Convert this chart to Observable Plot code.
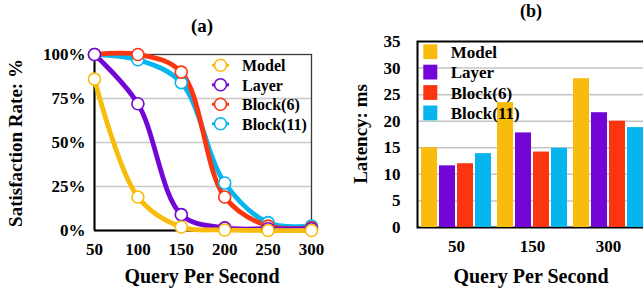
<!DOCTYPE html>
<html>
<head>
<meta charset="utf-8">
<script src="https://cdn.jsdelivr.net/npm/d3@7"></script>
<script src="https://cdn.jsdelivr.net/npm/@observablehq/plot@0.6"></script>
<style>
html, body { margin: 0; padding: 0; background: #fff; overflow: hidden; width: 643px; height: 292px; }
#root { position: relative; width: 643px; height: 292px; }
.layer { position: absolute; top: 0; }
#overlay { position: absolute; left: 0; top: 0; pointer-events: none; }
#overlay text { font-family: "Liberation Serif", "Times New Roman", serif; font-weight: bold; fill: #000; }
</style>
</head>
<body>
<div id="root">
  <div id="leftBox" class="layer" style="left:0;width:320px;height:292px"></div>
  <div id="rightBg" class="layer" style="left:320px;width:330px;height:292px"></div>
  <div id="rightBars" class="layer" style="left:320px;width:330px;height:292px"></div>
</div>
<script>
// ---------- data ----------
const qps = [50, 100, 150, 200, 250, 300];
const seriesNames = ["Model", "Layer", "Block(6)", "Block(11)"];
const seriesColors = ["#F9BC0C", "#7306D6", "#FC3511", "#05B5EE"];
const rateModel = [86, 19, 2, 0.3, 0, 0];
const rateLayer = [100, 72, 9, 1.5, 1, 1];
const rateBlock6 = [100, 100, 90, 19, 2.5, 1.5];
const rateBlock11 = [100, 97, 84, 27, 4.5, 2.5];
const rateTicks = [0, 25, 50, 75, 100];
const rateGrid = [25, 50, 75];

const qpsGroups = ["50", "150", "300"];
const latModel = [15, 23.5, 28];
const latLayer = [11.6, 17.8, 21.6];
const latBlock6 = [12, 14.2, 20];
const latBlock11 = [13.9, 14.9, 18.8];
const latTicks = [0, 5, 10, 15, 20, 25, 30, 35];
const latGrid = [5, 10, 15, 20, 25, 30];

const titleA = "(a)", titleB = "(b)";
const xTitle = "Query Per Second";
const yTitleA = "Satisfaction Rate: %";
const yTitleB = "Latency: ms";

// ---------- tables ----------
const rateSeries = [rateModel, rateLayer, rateBlock6, rateBlock11];
const latSeries = [latModel, latLayer, latBlock6, latBlock11];
// draw later series underneath (Model on top)
const lineData = [];
for (let i = seriesNames.length - 1; i >= 0; i--) {
  qps.forEach((q, j) => lineData.push({ qps: q, rate: rateSeries[i][j], series: seriesNames[i] }));
}
const barData = [];
qpsGroups.forEach((g, j) => seriesNames.forEach((s, i) => barData.push({ group: g, series: s, latency: latSeries[i][j] })));

const font = { fontFamily: "'Liberation Serif', 'Times New Roman', serif", fontWeight: "bold", fontSize: "17px", color: "#000", overflow: "visible" };
const color = { domain: seriesNames, range: seriesColors };

// ---------- (a) line chart ----------
const left = Plot.plot({
  width: 320, height: 292,
  marginLeft: 94, marginRight: 9, marginTop: 54, marginBottom: 62,
  style: { ...font, background: "transparent" },
  x: { domain: [50, 300], ticks: qps, tickFormat: d => String(d), tickSize: 0, tickPadding: 12, label: null },
  y: { domain: [0, 100], ticks: rateTicks, tickFormat: d => d + "%", tickSize: 0, tickPadding: 9, label: null },
  color,
  marks: [
    Plot.ruleY(rateGrid, { stroke: "#c8c8c8", strokeWidth: 1.5 }),
    Plot.frame({ stroke: "#3a3a3a", strokeWidth: 1.3 }),
    Plot.ruleX([50], { stroke: "#000", strokeWidth: 2 }),
    Plot.ruleY([0], { stroke: "#000", strokeWidth: 2 }),
    Plot.line(lineData, { x: "qps", y: "rate", z: "series", stroke: "series", strokeWidth: 4.8, curve: "catmull-rom", strokeLinejoin: "round" }),
    Plot.dot(lineData, { x: "qps", y: "rate", stroke: "series", fill: "white", r: 6, strokeWidth: 1.6 })
  ]
});
document.getElementById("leftBox").appendChild(left);

// ---------- (b) bar chart: background ----------
const margins = { width: 330, height: 292, marginLeft: 97, marginRight: 3.5, marginTop: 41, marginBottom: 65 };
const bandPad = { paddingInner: 0.072, paddingOuter: 0.043 };
const rightBg = Plot.plot({
  ...margins,
  style: { ...font, background: "transparent" },
  x: { domain: qpsGroups, ...bandPad, tickSize: 0, tickPadding: 12, label: null },
  y: { domain: [0, 35], ticks: latTicks, tickSize: 0, tickPadding: 17, label: null },
  marks: [
    Plot.ruleY(latGrid, { stroke: "#c4c4c4", strokeWidth: 1.5 }),
    Plot.frame({ stroke: "#000", strokeWidth: 2 })
  ]
});
document.getElementById("rightBg").appendChild(rightBg);

// ---------- (b) bars ----------
const rightBars = Plot.plot({
  ...margins,
  style: { ...font, background: "transparent" },
  fx: { domain: qpsGroups, ...bandPad, axis: null, label: null },
  x: { domain: seriesNames, paddingInner: 0.12, paddingOuter: 0, axis: null },
  y: { domain: [0, 35], axis: null },
  color,
  marks: [
    Plot.barY(barData, { fx: "group", x: "series", y: "latency", fill: "series" })
  ]
});
document.getElementById("rightBars").appendChild(rightBars);

// ---------- titles & legends overlay ----------
const svg = d3.select("#root").append("svg").attr("id", "overlay").attr("width", 643).attr("height", 292);
const addText = (t, x, y, size, rot) => {
  const el = svg.append("text").attr("font-size", size).attr("text-anchor", "middle").text(t);
  if (rot) el.attr("transform", `translate(${x},${y}) rotate(-90)`);
  else el.attr("x", x).attr("y", y);
  return el;
};
addText(titleA, 202, 32, 19);
addText(titleB, 531, 16.5, 18);
addText(xTitle, 202, 283, 20);
addText(xTitle, 531, 283, 20);
addText(yTitleA, 21.5, 143, 19, true);
addText(yTitleB, 367, 134, 19, true);

// legend (a): line + hollow circle
seriesNames.forEach((s, i) => {
  const cy = 65.3 + i * 19.5;
  svg.append("line").attr("x1", 212).attr("x2", 229).attr("y1", cy).attr("y2", cy)
    .attr("stroke", seriesColors[i]).attr("stroke-width", 3);
  svg.append("circle").attr("cx", 220.5).attr("cy", cy).attr("r", 6)
    .attr("fill", "white").attr("stroke", seriesColors[i]).attr("stroke-width", 1.6);
  svg.append("text").attr("x", 242).attr("y", cy + 6).attr("font-size", 16).text(s);
});

// legend (b): squares
seriesNames.forEach((s, i) => {
  const top = 44.3 + i * 20.4;
  svg.append("rect").attr("x", 423.3).attr("y", top).attr("width", 14).attr("height", 14.8).attr("fill", seriesColors[i]);
  svg.append("text").attr("x", 450.7).attr("y", top + 13.5).attr("font-size", 17).text(s);
});
</script>
</body>
</html>
